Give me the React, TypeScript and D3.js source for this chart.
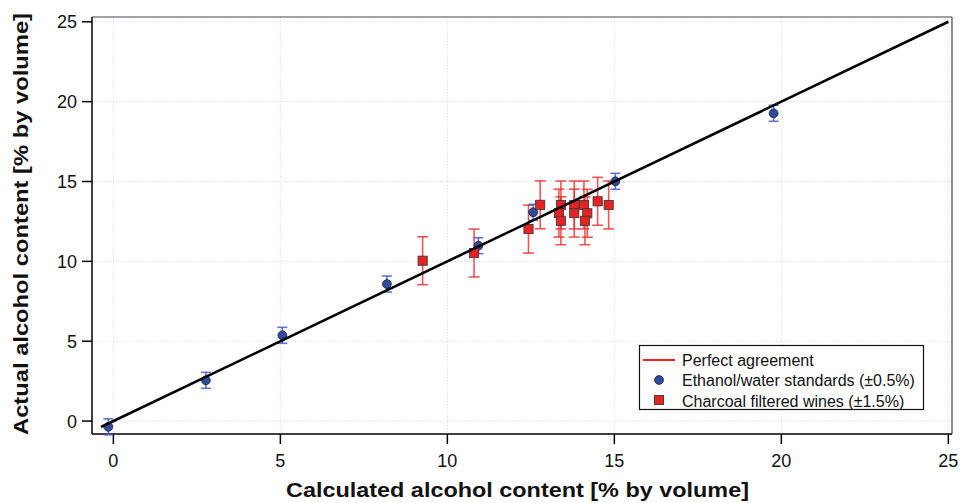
import React from "react";
import * as d3 from "d3";

const stdX = [-0.15, 2.77, 5.06, 8.19, 10.93, 12.57, 15.03, 19.77];
const stdY = [-0.36, 2.55, 5.37, 8.58, 10.98, 13.07, 15.01, 19.27];
const stdErr = 0.5;

const wineX = [9.26, 10.8, 12.43, 12.78, 13.4, 13.34, 13.4, 13.8, 13.8, 14.09, 14.19, 14.12, 14.5, 14.83];
const wineY = [10.04, 10.52, 12.02, 13.54, 13.53, 13.02, 12.54, 13.53, 13.02, 13.53, 13.01, 12.54, 13.76, 13.53];
const wineErr = 1.5;

const lineX = [-0.37, 25];
const ticks = [0, 5, 10, 15, 20, 25];
const legendLabels = ["Perfect agreement", "Ethanol/water standards (\u00b10.5%)", "Charcoal filtered wines (\u00b11.5%)"];

const L = 92, R = 952, T = 17, B = 434;

export default function App() {
  const x = d3.scaleLinear().domain([-0.64, 25.11]).range([L, R]);
  const y = d3.scaleLinear().domain([-0.81, 25.3]).range([B, T]);
  const line = d3.line<number>().x((d) => x(d)).y((d) => y(d));
  const font = "'Liberation Sans', Arial, sans-serif";
  const std = stdX.map((v, i) => ({ x: v, y: stdY[i] }));
  const wine = wineX.map((v, i) => ({ x: v, y: wineY[i] }));
  return (
    <svg width={960} height={503} style={{ position: "absolute", left: 0, top: 0 }} fontFamily={font}>
      <rect x={0} y={0} width={960} height={503} fill="#fff" />
      {/* grid */}
      {ticks.map((t) => (
        <g key={"g" + t}>
          <line x1={x(t)} x2={x(t)} y1={T} y2={B} stroke="#dde0f2" strokeDasharray="1.5,1.5" strokeWidth={1} />
          <line x1={L} x2={R} y1={y(t)} y2={y(t)} stroke="#dde0f2" strokeDasharray="1.5,1.5" strokeWidth={1} />
        </g>
      ))}
      {/* frame */}
      <line x1={L} x2={R} y1={T} y2={T} stroke="#444" strokeWidth={1.2} />
      <line x1={R} x2={R} y1={T} y2={B} stroke="#444" strokeWidth={1.2} />
      <line x1={L} x2={L} y1={T} y2={B} stroke="#000" strokeWidth={1.5} />
      <line x1={L} x2={R} y1={B} y2={B} stroke="#000" strokeWidth={1.5} />
      {/* ticks */}
      {ticks.map((t) => (
        <g key={"t" + t}>
          <line x1={x(t)} x2={x(t)} y1={B} y2={B + 10} stroke="#000" strokeWidth={1.5} />
          <text x={x(t)} y={B + 33} fontSize={18} textAnchor="middle" fill="#111">{t}</text>
          <line x1={L - 10} x2={L} y1={y(t)} y2={y(t)} stroke="#000" strokeWidth={1.5} />
          <text x={L - 15} y={y(t) + 6.5} fontSize={18} textAnchor="end" fill="#111">{t}</text>
        </g>
      ))}
      {/* axis titles */}
      <text x={517.5} y={497} fontSize={21} fontWeight="bold" textAnchor="middle" fill="#111" textLength={463} lengthAdjust="spacingAndGlyphs">
        Calculated alcohol content [% by volume]
      </text>
      <text transform={`translate(28,224) rotate(-90)`} fontSize={21} fontWeight="bold" textAnchor="middle" fill="#111" textLength={422} lengthAdjust="spacingAndGlyphs">
        Actual alcohol content [% by volume]
      </text>
      {/* wine error bars */}
      {wine.map((d, i) => (
        <g key={"we" + i} stroke="#ee2a2a" strokeOpacity={0.8} strokeWidth={1.6}>
          <line x1={x(d.x)} x2={x(d.x)} y1={y(d.y - wineErr)} y2={y(d.y + wineErr)} />
          <line x1={x(d.x) - 5.5} x2={x(d.x) + 5.5} y1={y(d.y - wineErr)} y2={y(d.y - wineErr)} />
          <line x1={x(d.x) - 5.5} x2={x(d.x) + 5.5} y1={y(d.y + wineErr)} y2={y(d.y + wineErr)} />
        </g>
      ))}
      {/* std error bars */}
      {std.map((d, i) => (
        <g key={"se" + i} stroke="#4a5cc0" strokeOpacity={0.85} strokeWidth={1.6}>
          <line x1={x(d.x)} x2={x(d.x)} y1={y(d.y - stdErr)} y2={y(d.y + stdErr)} />
          <line x1={x(d.x) - 5} x2={x(d.x) + 5} y1={y(d.y - stdErr)} y2={y(d.y - stdErr)} />
          <line x1={x(d.x) - 5} x2={x(d.x) + 5} y1={y(d.y + stdErr)} y2={y(d.y + stdErr)} />
        </g>
      ))}
      {/* std points */}
      {std.map((d, i) => (
        <circle key={"sp" + i} cx={x(d.x)} cy={y(d.y)} r={4.4} fill="#2e4c9e" stroke="#1a1a2a" strokeWidth={0.8} />
      ))}
      {/* wine points */}
      {wine.map((d, i) => (
        <rect key={"wp" + i} x={x(d.x) - 4.6} y={y(d.y) - 4.6} width={9.2} height={9.2} fill="#e82222" stroke="#333" strokeWidth={0.8} />
      ))}
      {/* agreement line */}
      <path d={line(lineX) || ""} stroke="#000" strokeWidth={2.6} fill="none" />
      {/* legend */}
      <g>
        <rect x={639.5} y={345.5} width={284} height={64} fill="#fff" stroke="#111" strokeWidth={1.2} />
        <line x1={643} x2={675} y1={360} y2={360} stroke="#ee2222" strokeWidth={2} />
        <circle cx={659} cy={380} r={4.4} fill="#2e4c9e" stroke="#1a1a2a" strokeWidth={0.8} />
        <rect x={654.4} y={395.4} width={9.2} height={9.2} fill="#e82222" stroke="#333" strokeWidth={0.8} />
        {legendLabels.map((s, i) => (
          <text key={"l" + i} x={682} y={366 + i * 20.3} fontSize={16} fill="#111">{s}</text>
        ))}
      </g>
    </svg>
  );
}
